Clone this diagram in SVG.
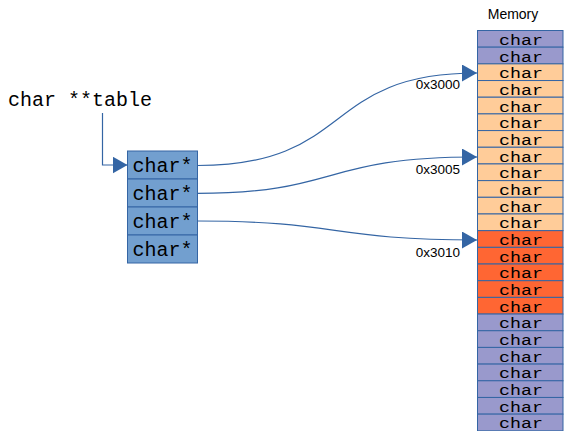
<svg xmlns="http://www.w3.org/2000/svg" width="565" height="431" viewBox="0 0 565 431">
<defs>
<style>
.mono{font-family:"Liberation Mono","Courier New",monospace;fill:#000}
.sans{font-family:"Liberation Sans",Arial,sans-serif;fill:#000}
.cell{stroke:#3465a4;stroke-width:1}
.pu{fill:#9999cc}
.or{fill:#ffcc99}
.rd{fill:#ff6633}
.ptr{fill:#729fcf;stroke:#3465a4;stroke-width:1}
.mc{font-size:14.5px;text-anchor:middle}
.pc{font-size:20px;text-anchor:middle}
.addr{font-size:13.5px;text-anchor:end}
.conn{fill:none;stroke:#3465a4;stroke-width:1.2}
</style>
<marker id="ah" viewBox="0 0 15 17" refX="15" refY="8.5" markerWidth="15" markerHeight="17" markerUnits="userSpaceOnUse" orient="auto">
<path d="M0,0 L15,8.5 L0,17 Z" fill="#3465a4"/>
</marker>
</defs>
<rect width="565" height="431" fill="#fff"/>

<g id="label-table">
<text class="mono" x="8" y="106" font-size="20">char **table</text>
</g>

<g id="memory">
<text class="sans" x="513" y="19.3" font-size="14" text-anchor="middle">Memory</text>
<g id="mem-cells">
<rect class="cell pu" x="477.5" y="30.5" width="85.5" height="16.68"/>
<rect class="cell pu" x="477.5" y="47.18" width="85.5" height="16.68"/>
<rect class="cell or" x="477.5" y="63.86" width="85.5" height="16.68"/>
<rect class="cell or" x="477.5" y="80.54" width="85.5" height="16.68"/>
<rect class="cell or" x="477.5" y="97.22" width="85.5" height="16.68"/>
<rect class="cell or" x="477.5" y="113.9" width="85.5" height="16.68"/>
<rect class="cell or" x="477.5" y="130.58" width="85.5" height="16.68"/>
<rect class="cell or" x="477.5" y="147.26" width="85.5" height="16.68"/>
<rect class="cell or" x="477.5" y="163.94" width="85.5" height="16.68"/>
<rect class="cell or" x="477.5" y="180.62" width="85.5" height="16.68"/>
<rect class="cell or" x="477.5" y="197.3" width="85.5" height="16.68"/>
<rect class="cell or" x="477.5" y="213.98" width="85.5" height="16.68"/>
<rect class="cell rd" x="477.5" y="230.66" width="85.5" height="16.68"/>
<rect class="cell rd" x="477.5" y="247.34" width="85.5" height="16.68"/>
<rect class="cell rd" x="477.5" y="264.02" width="85.5" height="16.68"/>
<rect class="cell rd" x="477.5" y="280.7" width="85.5" height="16.68"/>
<rect class="cell rd" x="477.5" y="297.38" width="85.5" height="16.68"/>
<rect class="cell pu" x="477.5" y="314.06" width="85.5" height="16.68"/>
<rect class="cell pu" x="477.5" y="330.74" width="85.5" height="16.68"/>
<rect class="cell pu" x="477.5" y="347.42" width="85.5" height="16.68"/>
<rect class="cell pu" x="477.5" y="364.1" width="85.5" height="16.68"/>
<rect class="cell pu" x="477.5" y="380.78" width="85.5" height="16.68"/>
<rect class="cell pu" x="477.5" y="397.46" width="85.5" height="16.68"/>
<rect class="cell pu" x="477.5" y="414.14" width="85.5" height="16.68"/>
</g>
<g id="mem-text" class="mono mc">
<text x="521" y="44.8" textLength="44" lengthAdjust="spacingAndGlyphs">char</text>
<text x="521" y="61.5" textLength="44" lengthAdjust="spacingAndGlyphs">char</text>
<text x="521" y="78.2" textLength="44" lengthAdjust="spacingAndGlyphs">char</text>
<text x="521" y="94.8" textLength="44" lengthAdjust="spacingAndGlyphs">char</text>
<text x="521" y="111.5" textLength="44" lengthAdjust="spacingAndGlyphs">char</text>
<text x="521" y="128.2" textLength="44" lengthAdjust="spacingAndGlyphs">char</text>
<text x="521" y="144.9" textLength="44" lengthAdjust="spacingAndGlyphs">char</text>
<text x="521" y="161.6" textLength="44" lengthAdjust="spacingAndGlyphs">char</text>
<text x="521" y="178.2" textLength="44" lengthAdjust="spacingAndGlyphs">char</text>
<text x="521" y="194.9" textLength="44" lengthAdjust="spacingAndGlyphs">char</text>
<text x="521" y="211.6" textLength="44" lengthAdjust="spacingAndGlyphs">char</text>
<text x="521" y="228.3" textLength="44" lengthAdjust="spacingAndGlyphs">char</text>
<text x="521" y="245" textLength="44" lengthAdjust="spacingAndGlyphs">char</text>
<text x="521" y="261.6" textLength="44" lengthAdjust="spacingAndGlyphs">char</text>
<text x="521" y="278.3" textLength="44" lengthAdjust="spacingAndGlyphs">char</text>
<text x="521" y="295" textLength="44" lengthAdjust="spacingAndGlyphs">char</text>
<text x="521" y="311.7" textLength="44" lengthAdjust="spacingAndGlyphs">char</text>
<text x="521" y="328.4" textLength="44" lengthAdjust="spacingAndGlyphs">char</text>
<text x="521" y="345" textLength="44" lengthAdjust="spacingAndGlyphs">char</text>
<text x="521" y="361.7" textLength="44" lengthAdjust="spacingAndGlyphs">char</text>
<text x="521" y="378.4" textLength="44" lengthAdjust="spacingAndGlyphs">char</text>
<text x="521" y="395.1" textLength="44" lengthAdjust="spacingAndGlyphs">char</text>
<text x="521" y="411.8" textLength="44" lengthAdjust="spacingAndGlyphs">char</text>
<text x="521" y="428.4" textLength="44" lengthAdjust="spacingAndGlyphs">char</text>
</g>
</g>

<g id="ptr-table">
<rect class="ptr" x="127.5" y="151" width="70" height="28"/>
<rect class="ptr" x="127.5" y="179" width="70" height="28"/>
<rect class="ptr" x="127.5" y="207" width="70" height="28"/>
<rect class="ptr" x="127.5" y="235" width="70" height="28"/>
<text class="mono pc" x="162.5" y="171.5">char*</text>
<text class="mono pc" x="162.5" y="199.5">char*</text>
<text class="mono pc" x="162.5" y="227.5">char*</text>
<text class="mono pc" x="162.5" y="255.5">char*</text>
</g>

<g id="addr-labels" class="sans addr">
<text x="460" y="89">0x3000</text>
<text x="460" y="174">0x3005</text>
<text x="460" y="257.3">0x3010</text>
</g>

<g id="connectors">
<path class="conn" d="M102.5,113 L102.5,165 L127.5,165" marker-end="url(#ah)"/>
<path class="conn" d="M197.5,165.5 C355,165.5 320,73 477,73" marker-end="url(#ah)"/>
<path class="conn" d="M197.5,193.3 C340,193.3 320,157 477,157" marker-end="url(#ah)"/>
<path class="conn" d="M197.5,221 C340,221 330,240 477,240" marker-end="url(#ah)"/>
</g>
</svg>
